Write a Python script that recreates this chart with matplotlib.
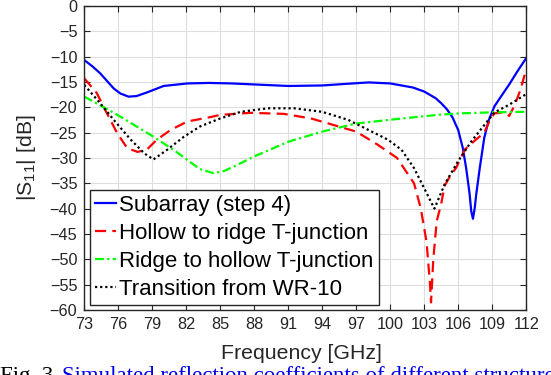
import matplotlib
matplotlib.use('Agg')
import matplotlib.pyplot as plt

plt.rcParams['font.family'] = ['Liberation Sans', 'DejaVu Sans']
plt.rcParams['mathtext.fontset'] = 'custom'
plt.rcParams['mathtext.rm'] = 'Liberation Sans'
plt.rcParams['mathtext.it'] = 'Liberation Sans'

# Subarray (step 4)
f_sub = [73, 73.7, 74.4, 75, 75.6, 76.2, 76.9, 77.6, 78.5, 80, 82.1, 84, 86, 88, 91,
         94, 96, 98.1, 100, 101, 102, 103, 104, 104.5, 105, 105.5, 106, 106.4, 106.7,
         107, 107.15, 107.3, 107.45, 107.6, 107.9, 108.3, 108.7, 109.2, 109.8, 110.5,
         111.2, 112]
s_sub = [-10.7, -11.9, -13.3, -14.8, -16.3, -17.3, -17.9, -17.8, -17.1, -15.8, -15.3,
         -15.2, -15.3, -15.5, -15.8, -15.7, -15.4, -15.1, -15.3, -15.7, -16.1, -16.9,
         -18.2, -19.2, -20.4, -22.0, -24.5, -28.0, -32.0, -37.0, -40.5, -42.0, -40.0,
         -37.0, -32.0, -26.0, -22.5, -19.8, -17.8, -15.5, -13.0, -10.3]

# Hollow to ridge T-junction
f_h2r = [73, 74.1, 75, 75.9, 76.8, 77.7, 78.5, 79.4, 80.6, 82.1, 84, 85, 87.7, 90.6,
         93, 95, 97, 98.9, 100.6, 102.1, 102.7, 103.2, 103.5, 103.6, 103.8, 104.1,
         104.5, 104.8, 105.3, 105.8, 106.6, 107.5, 108.3, 108.8, 109.2, 110, 110.5,
         111, 111.5, 112]
s_h2r = [-14.3, -17.2, -21.2, -25.1, -28.1, -28.8, -28.4, -26.4, -24.5, -22.8, -22.0,
         -21.5, -21.1, -21.3, -22.2, -23.5, -24.8, -27.4, -30.0, -35.0, -40.0, -46.5,
         -54.5, -58.5, -50.0, -42.5, -39.0, -35.5, -33.5, -32.0, -28.3, -26.5, -25.0,
         -22.5, -21.2, -21.0, -21.7, -19.5, -16.5, -12.5]

# Ridge to hollow T-junction
f_r2h = [73, 76, 79.1, 81, 82.1, 83.2, 84.4, 85.3, 86.2, 88, 91, 94, 97, 101.1,
         104.2, 106.2, 109, 112]
s_r2h = [-17.9, -21.6, -25.8, -28.6, -30.4, -32.2, -33.0, -32.6, -31.7, -29.7, -26.8,
         -24.8, -23.2, -22.2, -21.5, -21.2, -21.0, -20.9]

# Transition from WR-10
f_wr = [73, 74.4, 75.6, 77.1, 78.3, 79.1, 80.3, 81.8, 83.2, 85, 86.8, 89.2, 91.5, 94,
        96.3, 98.1, 99.8, 101, 102.1, 103, 103.9, 104.8, 106, 107.2, 108.2, 109.2,
        110.5, 112]
s_wr = [-15.6, -19.2, -22.5, -26.4, -29.1, -30.3, -28.4, -25.8, -23.8, -22.2, -20.9,
        -20.2, -20.2, -20.9, -22.5, -24.5, -26.4, -28.4, -32.0, -36.0, -40.0, -35.2,
        -30.6, -26.6, -23.8, -21.0, -19.5, -17.4]

labels = ["Subarray (step 4)", "Hollow to ridge T-junction",
          "Ridge to hollow T-junction", "Transition from WR-10"]
x_ticks = list(range(73, 113, 3))
y_ticks = list(range(-60, 1, 5))

fig = plt.figure(figsize=(5.51, 3.75), dpi=100)
ax = fig.add_axes([0.153, 0.1733, 0.802, 0.811])

ax.plot(f_sub, s_sub, color="#0000ff", lw=1.6, label=labels[0])
ax.plot(f_h2r, s_h2r, color="#ff0000", lw=1.6, dashes=(5, 2.8), label=labels[1])
ax.plot(f_r2h, s_r2h, color="#00ff00", lw=1.6, dashes=(4, 1.5, 1, 1.5), label=labels[2])
ax.plot(f_wr, s_wr, color="black", lw=1.6, dashes=(1, 1.3), label=labels[3])

ax.set_xlim(73, 112)
ax.set_ylim(-60, 0)
ax.set_xticks(x_ticks)
ax.set_yticks(y_ticks)
ax.tick_params(direction="in", top=True, right=True, length=4, width=0.8,
               color="#262626", labelsize=11.7, labelcolor="#262626", pad=5)
ax.grid(True, color="#dedede", lw=0.8)
ax.set_axisbelow(True)
for sp in ax.spines.values():
    sp.set_color("#262626")
    sp.set_linewidth(1.0)

ax.set_xlabel("Frequency [GHz]", fontsize=15.3, color="#262626")
ax.set_ylabel("|S$_{11}$| [dB]", fontsize=15.3, color="#262626")
ax.xaxis.set_label_coords(0.4914, -0.113)
ax.yaxis.set_label_coords(-0.105, 0.5)

leg = ax.legend(loc="lower left", bbox_to_anchor=(0.013, 0.016), fontsize=16,
                frameon=True, fancybox=False, framealpha=1, edgecolor="#262626",
                borderpad=0.22, handlelength=0.95, handletextpad=0.15,
                labelspacing=0.32, borderaxespad=0)
leg.get_frame().set_linewidth(1.0)

# caption, cut off at the bottom edge as in the source
fig.text(0.0, 1 - 366 / 375, "Fig. 3.", fontsize=16.5, family="Liberation Serif",
         color="black", va="top", ha="left")
fig.text(62 / 551, 1 - 366 / 375,
         "Simulated reflection coefficients of different structures",
         fontsize=16.5, family="Liberation Serif", color="#0000ee", va="top", ha="left")

fig.savefig("out.png", dpi=100)
